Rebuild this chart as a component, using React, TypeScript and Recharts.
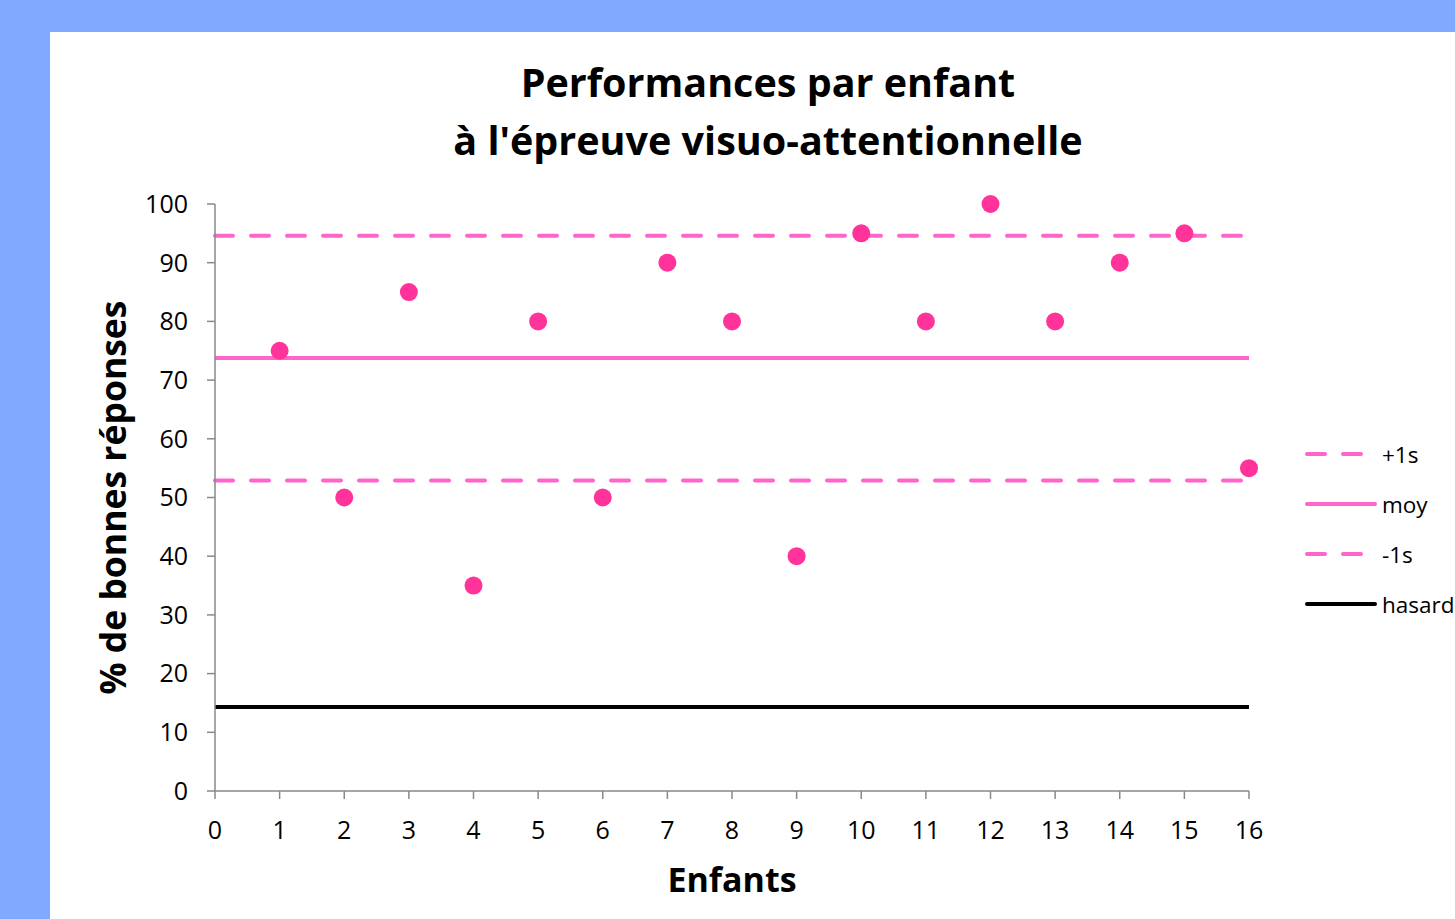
import React from 'react';
import { ComposedChart, Line, Scatter, XAxis, YAxis } from 'recharts';

const FONT = '"Open Sans", Lato, sans-serif';

const children = [1, 2, 3, 4, 5, 6, 7, 8, 9, 10, 11, 12, 13, 14, 15, 16];
const scores = [75, 50, 85, 35, 80, 50, 90, 80, 40, 95, 80, 100, 80, 90, 95, 55];

const xTicks = [0, 1, 2, 3, 4, 5, 6, 7, 8, 9, 10, 11, 12, 13, 14, 15, 16];
const yTicks = [0, 10, 20, 30, 40, 50, 60, 70, 80, 90, 100];

const lineEnds = [0, 16];
const plusOne = [94.6, 94.6];
const mean = [73.75, 73.75];
const minusOne = [52.9, 52.9];
const chance = [14.3, 14.3];

const PINK_LINE = '#ff66cc';
const PINK_DOT = '#ff3399';

const points = children.map((x, i) => ({ x, y: scores[i] }));
const lineData = lineEnds.map((x, i) => ({
  x,
  plus: plusOne[i],
  moy: mean[i],
  minus: minusOne[i],
  hasard: chance[i],
}));

const legendItems = [
  { name: '+1s', color: PINK_LINE, dashed: true },
  { name: 'moy', color: PINK_LINE, dashed: false },
  { name: '-1s', color: PINK_LINE, dashed: true },
  { name: 'hasard', color: '#000000', dashed: false },
];

const Dot = (props: any) => {
  const { cx, cy } = props;
  if (cx == null || cy == null) return null;
  return <circle cx={cx} cy={cy} r={9} fill={PINK_DOT} />;
};

const YLabel = (props: any) => {
  const { viewBox } = props;
  const cx = 62;
  const cy = viewBox.y + viewBox.height / 2;
  return (
    <text
      x={cx}
      y={cy}
      transform={`rotate(-90, ${cx}, ${cy})`}
      textAnchor="middle"
      dominantBaseline="central"
      fontFamily={FONT}
      fontWeight="bold"
      fontSize={35.5}
      fill="#000"
    >
      % de bonnes réponses
    </text>
  );
};

const axisTick = { fill: '#000', fontSize: 25, fontFamily: FONT };

export default function App() {
  return (
    <div
      style={{
        position: 'absolute',
        left: 0,
        top: 0,
        width: 1455,
        height: 919,
        background: '#7faaff',
        overflow: 'hidden',
      }}
    >
      <div
        style={{
          position: 'absolute',
          left: 50,
          top: 32,
          width: 1405,
          height: 887,
          background: '#fff',
          overflow: 'hidden',
        }}
      >
        <div
          style={{
            position: 'absolute',
            left: 718,
            top: 21,
            transform: 'translateX(-50%)',
            whiteSpace: 'nowrap',
            textAlign: 'center',
            fontFamily: FONT,
            fontWeight: 'bold',
            fontSize: 39.5,
            lineHeight: '58px',
            color: '#000',
          }}
        >
          Performances par enfant
          <br />
          à l'épreuve visuo-attentionnelle
        </div>

        <ComposedChart
          width={1405}
          height={887}
          margin={{ top: 172, right: 206, left: 0, bottom: 0 }}
          style={{ position: 'absolute', left: 0, top: 0, overflow: 'visible' }}
        >
          <XAxis
            type="number"
            dataKey="x"
            domain={[0, 16]}
            ticks={xTicks}
            interval={0}
            height={128}
            stroke="#898989"
            strokeWidth={1.5}
            tickSize={8}
            tickMargin={22}
            tick={axisTick}
            label={{
              value: 'Enfants',
              position: 'insideTop',
              offset: 77,
              style: { fontFamily: FONT, fontWeight: 'bold', fontSize: 34, fill: '#000' },
            }}
          />
          <YAxis
            type="number"
            domain={[0, 100]}
            ticks={yTicks}
            interval={0}
            width={165}
            stroke="#898989"
            strokeWidth={1.5}
            tickSize={8}
            tickMargin={19}
            tick={axisTick}
            label={<YLabel />}
          />
          <Line
            data={lineData}
            dataKey="plus"
            stroke={PINK_LINE}
            strokeWidth={4}
            strokeDasharray="18 18"
            strokeLinecap="round"
            dot={false}
            activeDot={false}
            isAnimationActive={false}
          />
          <Line
            data={lineData}
            dataKey="moy"
            stroke={PINK_LINE}
            strokeWidth={4}
            dot={false}
            activeDot={false}
            isAnimationActive={false}
          />
          <Line
            data={lineData}
            dataKey="minus"
            stroke={PINK_LINE}
            strokeWidth={4}
            strokeDasharray="18 18"
            strokeLinecap="round"
            dot={false}
            activeDot={false}
            isAnimationActive={false}
          />
          <Line
            data={lineData}
            dataKey="hasard"
            stroke="#000"
            strokeWidth={4}
            dot={false}
            activeDot={false}
            isAnimationActive={false}
          />
          <Scatter data={points} dataKey="y" shape={<Dot />} isAnimationActive={false} />
        </ComposedChart>

        <div
          style={{
            position: 'absolute',
            left: 1255,
            top: 397,
            fontFamily: FONT,
            fontSize: 22.5,
            color: '#000',
          }}
        >
          {legendItems.map((item) => (
            <div
              key={item.name}
              style={{ display: 'flex', alignItems: 'center', height: 50, whiteSpace: 'nowrap' }}
            >
              <svg width={77} height={10}>
                <line
                  x1={2}
                  y1={5}
                  x2={70}
                  y2={5}
                  stroke={item.color}
                  strokeWidth={4}
                  strokeLinecap="round"
                  strokeDasharray={item.dashed ? '18 18' : undefined}
                />
              </svg>
              <span>{item.name}</span>
            </div>
          ))}
        </div>
      </div>
    </div>
  );
}
